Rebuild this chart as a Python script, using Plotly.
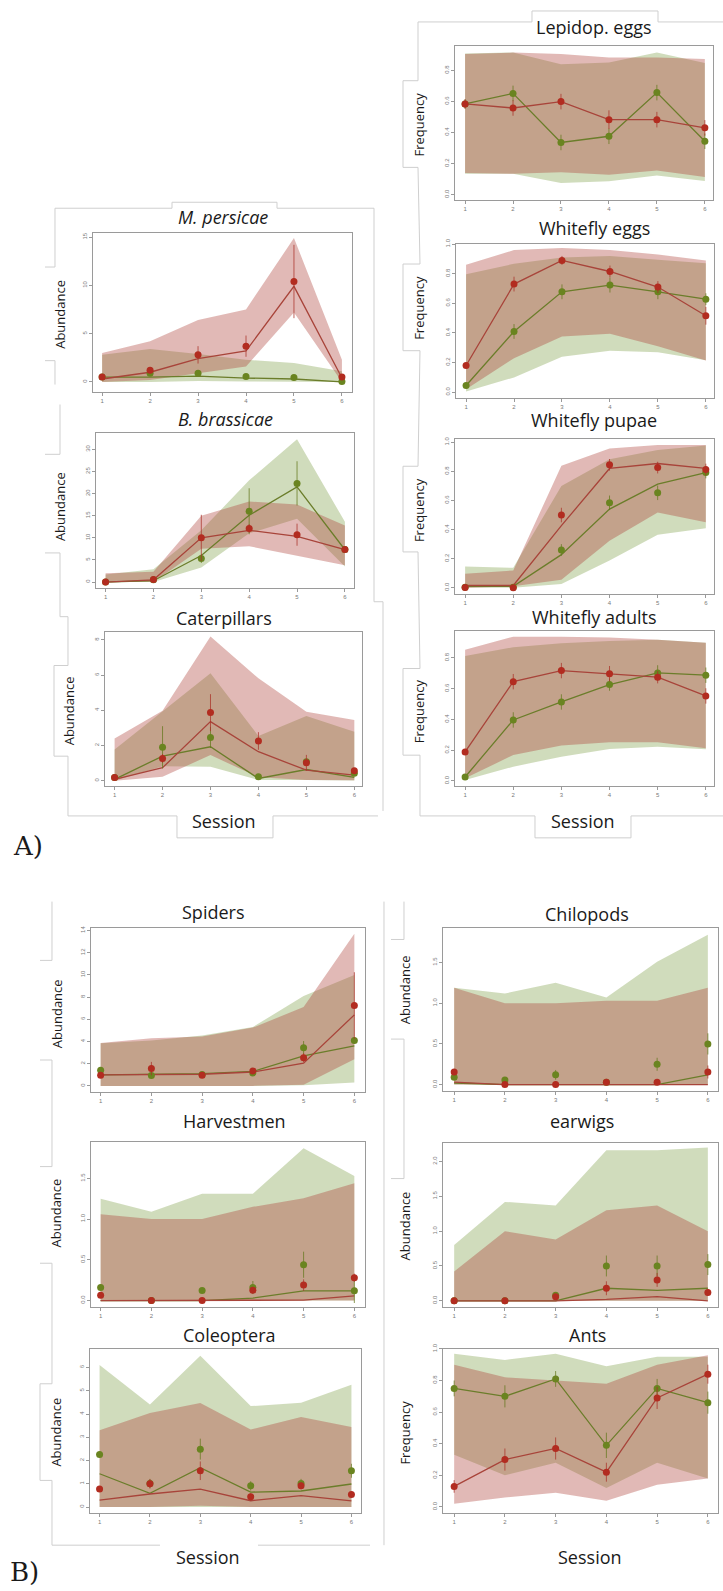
import plotly.graph_objects as go

W, H = 723, 1591
S = [1, 2, 3, 4, 5, 6]

# ---------------- data ----------------
# M. persicae
mp_red_pts = [0.5, 1.2, 2.8, 3.7, 10.4, 0.5]
mp_red_fit = [0.3, 1.0, 2.4, 3.2, 9.9, 0.4]
mp_red_lo = [0.0, 0.2, 0.9, 1.6, 7.2, 0.0]
mp_red_hi = [3.0, 4.2, 6.4, 7.5, 14.9, 2.3]
mp_red_se = [0.2, 0.3, 0.9, 1.1, 3.8, 0.2]
mp_grn_pts = [0.5, 0.9, 0.9, 0.55, 0.45, 0.05]
mp_grn_fit = [0.5, 0.5, 0.6, 0.4, 0.3, 0.0]
mp_grn_lo = [0.0, 0.0, 0.1, 0.05, 0.0, 0.0]
mp_grn_hi = [2.8, 3.4, 2.9, 2.3, 1.95, 1.1]
mp_grn_se = [0.1, 0.2, 0.2, 0.1, 0.1, 0.05]

# B. brassicae
bb_red_pts = [0.0, 0.6, 10.0, 12.1, 10.7, 7.35]
bb_red_fit = [0.0, 0.5, 10.0, 11.7, 10.3, 7.3]
bb_red_lo = [0.0, 0.0, 7.5, 8.1, 5.9, 3.8]
bb_red_hi = [2.0, 2.3, 15.0, 18.2, 17.5, 12.8]
bb_red_se = [0.2, 0.3, 5.2, 1.0, 2.5, 0.3]
bb_grn_pts = [0.0, 0.5, 5.3, 16.0, 22.3, 7.35]
bb_grn_fit = [0.0, 0.3, 6.0, 15.1, 21.5, 7.3]
bb_grn_lo = [0.0, 0.0, 3.3, 11.0, 14.3, 3.5]
bb_grn_hi = [1.7, 2.9, 11.7, 23.0, 32.3, 13.6]
bb_grn_se = [0.2, 0.3, 1.0, 5.2, 5.0, 0.3]

# Caterpillars
ca_red_pts = [0.19, 1.27, 3.87, 2.26, 1.02, 0.57]
ca_red_fit = [0.08, 0.74, 3.36, 1.65, 0.6, 0.32]
ca_red_lo = [0.0, 0.23, 1.46, 0.2, 0.05, 0.03]
ca_red_hi = [2.4, 3.98, 8.19, 5.82, 3.92, 3.45]
ca_red_se = [0.05, 0.25, 1.05, 0.5, 0.45, 0.1]
ca_grn_pts = [0.19, 1.9, 2.46, 0.23, 1.08, 0.42]
ca_grn_fit = [0.08, 1.4, 1.93, 0.13, 0.64, 0.19]
ca_grn_lo = [0.0, 0.83, 0.8, 0.05, 0.05, 0.02]
ca_grn_hi = [1.78, 3.92, 6.1, 2.54, 3.68, 2.79]
ca_grn_se = [0.05, 1.2, 0.6, 0.05, 0.1, 0.1]

# Lepidop. eggs
le_red_pts = [0.584, 0.558, 0.599, 0.483, 0.483, 0.43]
le_red_lo = [0.139, 0.135, 0.145, 0.128, 0.156, 0.113]
le_red_hi = [0.905, 0.915, 0.905, 0.883, 0.883, 0.873]
le_red_se = [0.03, 0.05, 0.05, 0.06, 0.05, 0.05]
le_grn_pts = [0.584, 0.652, 0.336, 0.376, 0.657, 0.344]
le_grn_lo = [0.135, 0.135, 0.075, 0.086, 0.124, 0.088]
le_grn_hi = [0.909, 0.915, 0.84, 0.851, 0.915, 0.847]
le_grn_se = [0.03, 0.05, 0.05, 0.05, 0.05, 0.05]

# Whitefly eggs
we_red_pts = [0.18, 0.73, 0.89, 0.815, 0.71, 0.516]
we_red_lo = [0.02, 0.23, 0.376, 0.394, 0.31, 0.214]
we_red_hi = [0.86, 0.96, 0.973, 0.96, 0.93, 0.89]
we_red_se = [0.02, 0.05, 0.03, 0.04, 0.04, 0.06]
we_grn_pts = [0.045, 0.41, 0.678, 0.723, 0.678, 0.628]
we_grn_lo = [0.005, 0.1, 0.24, 0.28, 0.27, 0.216]
we_grn_hi = [0.797, 0.867, 0.91, 0.92, 0.894, 0.87]
we_grn_se = [0.02, 0.05, 0.05, 0.05, 0.05, 0.04]

# Whitefly pupae
wp_red_pts = [0.002, 0.0, 0.5, 0.845, 0.826, 0.813]
wp_red_fit = [0.016, 0.016, 0.427, 0.82, 0.854, 0.82]
wp_red_lo = [0.0, 0.01, 0.055, 0.324, 0.518, 0.45]
wp_red_hi = [0.096, 0.119, 0.838, 0.957, 0.982, 0.982]
wp_red_se = [0.01, 0.01, 0.05, 0.04, 0.04, 0.04]
wp_grn_pts = [0.004, 0.004, 0.26, 0.584, 0.653, 0.792]
wp_grn_fit = [0.01, 0.01, 0.228, 0.541, 0.712, 0.792]
wp_grn_lo = [0.0, 0.0, 0.027, 0.187, 0.365, 0.41]
wp_grn_hi = [0.146, 0.137, 0.7, 0.884, 0.947, 0.977]
wp_grn_se = [0.01, 0.01, 0.04, 0.05, 0.05, 0.04]

# Whitefly adults
wa_red_pts = [0.189, 0.646, 0.718, 0.698, 0.675, 0.553]
wa_red_lo = [0.017, 0.169, 0.23, 0.252, 0.252, 0.213]
wa_red_hi = [0.853, 0.939, 0.939, 0.933, 0.918, 0.9]
wa_red_se = [0.02, 0.05, 0.05, 0.05, 0.04, 0.05]
wa_grn_pts = [0.026, 0.397, 0.514, 0.627, 0.703, 0.688]
wa_grn_lo = [0.006, 0.093, 0.158, 0.208, 0.223, 0.206]
wa_grn_hi = [0.813, 0.87, 0.896, 0.911, 0.918, 0.9]
wa_grn_se = [0.01, 0.05, 0.05, 0.04, 0.05, 0.05]

# Spiders
sp_red_pts = [0.96, 1.56, 0.96, 1.35, 2.54, 7.24]
sp_red_fit = [1.0, 1.0, 1.05, 1.25, 2.05, 6.4]
sp_red_lo = [0.0, 0.0, 0.0, 0.0, 0.1, 2.4]
sp_red_hi = [3.86, 4.3, 4.45, 5.25, 7.1, 13.7]
sp_red_se = [0.1, 0.6, 0.1, 0.2, 0.4, 3.0]
sp_grn_pts = [1.41, 0.93, 1.02, 1.17, 3.44, 4.1]
sp_grn_fit = [1.0, 1.05, 1.1, 1.3, 2.7, 3.6]
sp_grn_lo = [0.0, 0.0, 0.0, 0.0, 0.05, 0.3]
sp_grn_hi = [3.85, 4.1, 4.55, 5.3, 8.1, 10.0]
sp_grn_se = [0.1, 0.1, 0.1, 0.2, 0.6, 0.3]

# Harvestmen
hv_red_pts = [0.066, 0.0, 0.0, 0.127, 0.19, 0.28]
hv_red_fit = [0.0, 0.0, 0.0, 0.0, 0.005, 0.057]
hv_red_lo = [0.0, 0.0, 0.0, 0.0, 0.0, 0.0]
hv_red_hi = [1.06, 1.0, 1.0, 1.15, 1.255, 1.44]
hv_red_se = [0.01, 0.0, 0.0, 0.04, 0.07, 0.05]
hv_grn_pts = [0.16, 0.0, 0.123, 0.16, 0.44, 0.12]
hv_grn_fit = [0.0, 0.0, 0.0, 0.03, 0.12, 0.12]
hv_grn_lo = [0.0, 0.0, 0.0, 0.0, 0.0, 0.0]
hv_grn_hi = [1.25, 1.09, 1.31, 1.31, 1.87, 1.53]
hv_grn_se = [0.02, 0.0, 0.03, 0.08, 0.16, 0.15]

# Coleoptera
co_red_pts = [0.77, 1.0, 1.56, 0.44, 0.91, 0.54]
co_red_fit = [0.3, 0.56, 0.77, 0.27, 0.49, 0.26]
co_red_lo = [0.0, 0.0, 0.05, 0.0, 0.0, 0.0]
co_red_hi = [3.3, 4.04, 4.47, 3.33, 3.87, 3.44]
co_red_se = [0.1, 0.2, 0.4, 0.15, 0.15, 0.1]
co_grn_pts = [2.26, 1.01, 2.49, 0.91, 1.01, 1.56]
co_grn_fit = [1.43, 0.59, 1.69, 0.64, 0.69, 0.99]
co_grn_lo = [0.0, 0.0, 0.0, 0.0, 0.0, 0.0]
co_grn_hi = [6.11, 4.41, 6.51, 4.34, 4.49, 5.26]
co_grn_se = [0.1, 0.2, 0.45, 0.2, 0.2, 0.3]

# Chilopods
ch_red_pts = [0.155, 0.0, 0.0, 0.03, 0.03, 0.155]
ch_red_fit = [0.03, 0.0, 0.0, 0.0, 0.0, 0.0]
ch_red_lo = [0.0, 0.0, 0.0, 0.0, 0.0, 0.0]
ch_red_hi = [1.19, 1.0, 1.0, 1.03, 1.03, 1.19]
ch_red_se = [0.03, 0.0, 0.0, 0.0, 0.0, 0.08]
ch_grn_pts = [0.09, 0.057, 0.12, 0.03, 0.25, 0.5]
ch_grn_fit = [0.02, 0.0, 0.0, 0.0, 0.0, 0.12]
ch_grn_lo = [0.0, 0.0, 0.0, 0.0, 0.0, 0.0]
ch_grn_hi = [1.19, 1.12, 1.25, 1.07, 1.51, 1.84]
ch_grn_se = [0.02, 0.03, 0.06, 0.0, 0.08, 0.13]

# earwigs
ew_red_pts = [0.0, 0.0, 0.06, 0.18, 0.3, 0.12]
ew_red_fit = [0.0, 0.0, 0.0, 0.02, 0.06, 0.0]
ew_red_lo = [0.0, 0.0, 0.0, 0.0, 0.0, 0.0]
ew_red_hi = [0.42, 1.0, 0.88, 1.3, 1.37, 1.0]
ew_red_se = [0.0, 0.0, 0.02, 0.1, 0.1, 0.05]
ew_grn_pts = [0.0, 0.0, 0.08, 0.5, 0.5, 0.52]
ew_grn_fit = [0.0, 0.0, 0.0, 0.18, 0.15, 0.18]
ew_grn_lo = [0.0, 0.0, 0.0, 0.0, 0.0, 0.0]
ew_grn_hi = [0.8, 1.42, 1.37, 2.16, 2.16, 2.2]
ew_grn_se = [0.0, 0.0, 0.02, 0.15, 0.15, 0.15]

# Ants
an_red_pts = [0.13, 0.30, 0.37, 0.22, 0.69, 0.84]
an_red_fit = [0.13, 0.30, 0.37, 0.22, 0.69, 0.84]
an_red_lo = [0.02, 0.06, 0.09, 0.04, 0.14, 0.18]
an_red_hi = [0.90, 0.82, 0.80, 0.78, 0.90, 0.96]
an_red_se = [0.04, 0.07, 0.07, 0.06, 0.07, 0.06]
an_grn_pts = [0.75, 0.70, 0.81, 0.39, 0.75, 0.66]
an_grn_fit = [0.75, 0.70, 0.81, 0.39, 0.75, 0.66]
an_grn_lo = [0.33, 0.2, 0.28, 0.12, 0.28, 0.18]
an_grn_hi = [0.97, 0.93, 0.97, 0.89, 0.95, 0.95]
an_grn_se = [0.05, 0.07, 0.05, 0.08, 0.06, 0.07]

# tick labels
ticks_mp = [0, 5, 10, 15]
ticks_bb = [0, 5, 10, 15, 20, 25, 30]
ticks_ca = [0, 2, 4, 6, 8]
ticks_f8 = [0.0, 0.2, 0.4, 0.6, 0.8]
ticks_f10 = [0.0, 0.2, 0.4, 0.6, 0.8, 1.0]
ticks_sp = [0, 2, 4, 6, 8, 10, 12, 14]
ticks_h = [0.0, 0.5, 1.0, 1.5]
ticks_co = [0, 1, 2, 3, 4, 5, 6]
ticks_ew = [0.0, 0.5, 1.0, 1.5, 2.0]

# ---------------- styling ----------------
RED_FILL = "rgba(172,62,52,0.36)"
GRN_FILL = "rgba(112,150,52,0.33)"
RED_LINE = "#a8443a"
GRN_LINE = "#6b7d2a"
RED_PT = "#b22c20"
GRN_PT = "#6a8420"
RED_ERR = "rgba(170,50,40,0.75)"
GRN_ERR = "rgba(100,120,30,0.75)"
FRAME = "#cfcfcf"
TXT = "#1a1a1a"
FONT = "Open Sans"


def fx(x):
    return x / W


def fy(y):
    return 1 - y / H


panels = [
    dict(t="M. persicae", it=True, box=(93, 352, 228, 387), xr=(0.81, 6.21), yr=(-1.0, 15.41), tk=ticks_mp, f="%d",
         ttl=(223, 212), red=(mp_red_pts, mp_red_fit, mp_red_lo, mp_red_hi, mp_red_se),
         grn=(mp_grn_pts, mp_grn_fit, mp_grn_lo, mp_grn_hi, mp_grn_se)),
    dict(t="B. brassicae", it=True, box=(96, 354, 429, 584), xr=(0.80, 6.19), yr=(-1.3, 33.6), tk=ticks_bb, f="%d",
         ttl=(225, 415), red=(bb_red_pts, bb_red_fit, bb_red_lo, bb_red_hi, bb_red_se),
         grn=(bb_grn_pts, bb_grn_fit, bb_grn_lo, bb_grn_hi, bb_grn_se)),
    dict(t="Caterpillars", it=False, box=(105, 362, 628, 783), xr=(0.80, 6.16), yr=(-0.3, 8.47), tk=ticks_ca, f="%d",
         ttl=(224, 614), red=(ca_red_pts, ca_red_fit, ca_red_lo, ca_red_hi, ca_red_se),
         grn=(ca_grn_pts, ca_grn_fit, ca_grn_lo, ca_grn_hi, ca_grn_se)),
    dict(t="Lepidop. eggs", it=False, box=(455, 713, 40, 195), xr=(0.79, 6.17), yr=(-0.036, 0.958), tk=ticks_f8, f="%.1f",
         ttl=(594, 21), red=(le_red_pts, le_red_pts, le_red_lo, le_red_hi, le_red_se),
         grn=(le_grn_pts, le_grn_pts, le_grn_lo, le_grn_hi, le_grn_se)),
    dict(t="Whitefly eggs", it=False, box=(456, 714, 239, 393), xr=(0.79, 6.17), yr=(-0.036, 1.0), tk=ticks_f10, f="%.1f",
         ttl=(594, 223), red=(we_red_pts, we_red_pts, we_red_lo, we_red_hi, we_red_se),
         grn=(we_grn_pts, we_grn_pts, we_grn_lo, we_grn_hi, we_grn_se)),
    dict(t="Whitefly pupae", it=False, box=(455, 714, 435, 590), xr=(0.79, 6.17), yr=(-0.041, 1.02), tk=ticks_f10, f="%.1f",
         ttl=(594, 416), red=(wp_red_pts, wp_red_fit, wp_red_lo, wp_red_hi, wp_red_se),
         grn=(wp_grn_pts, wp_grn_fit, wp_grn_lo, wp_grn_hi, wp_grn_se)),
    dict(t="Whitefly adults", it=False, box=(455, 714, 627, 783), xr=(0.79, 6.17), yr=(-0.033, 0.978), tk=ticks_f8, f="%.1f",
         ttl=(594, 613), red=(wa_red_pts, wa_red_pts, wa_red_lo, wa_red_hi, wa_red_se),
         grn=(wa_grn_pts, wa_grn_pts, wa_grn_lo, wa_grn_hi, wa_grn_se)),
    dict(t="Spiders", it=False, box=(91, 365, 925, 1090), xr=(0.81, 6.21), yr=(-0.54, 14.27), tk=ticks_sp, f="%d",
         ttl=(213, 909), red=(sp_red_pts, sp_red_fit, sp_red_lo, sp_red_hi, sp_red_se),
         grn=(sp_grn_pts, sp_grn_fit, sp_grn_lo, sp_grn_hi, sp_grn_se)),
    dict(t="Harvestmen", it=False, box=(91, 365, 1140, 1306), xr=(0.81, 6.21), yr=(-0.08, 1.95), tk=ticks_h, f="%.1f",
         ttl=(234, 1119), red=(hv_red_pts, hv_red_fit, hv_red_lo, hv_red_hi, hv_red_se),
         grn=(hv_grn_pts, hv_grn_fit, hv_grn_lo, hv_grn_hi, hv_grn_se)),
    dict(t="Coleoptera", it=False, box=(90, 361, 1348, 1513), xr=(0.81, 6.19), yr=(-0.27, 6.8), tk=ticks_co, f="%d",
         ttl=(230, 1334), red=(co_red_pts, co_red_fit, co_red_lo, co_red_hi, co_red_se),
         grn=(co_grn_pts, co_grn_fit, co_grn_lo, co_grn_hi, co_grn_se)),
    dict(t="Chilopods", it=False, box=(443, 718, 925, 1089), xr=(0.78, 6.2), yr=(-0.077, 1.93), tk=ticks_h, f="%.1f",
         ttl=(587, 911), red=(ch_red_pts, ch_red_fit, ch_red_lo, ch_red_hi, ch_red_se),
         grn=(ch_grn_pts, ch_grn_fit, ch_grn_lo, ch_grn_hi, ch_grn_se)),
    dict(t="earwigs", it=False, box=(443, 718, 1141, 1306), xr=(0.78, 6.2), yr=(-0.09, 2.27), tk=ticks_ew, f="%.1f",
         ttl=(582, 1119), red=(ew_red_pts, ew_red_fit, ew_red_lo, ew_red_hi, ew_red_se),
         grn=(ew_grn_pts, ew_grn_fit, ew_grn_lo, ew_grn_hi, ew_grn_se)),
    dict(t="Ants", it=False, box=(443, 718, 1348, 1513), xr=(0.78, 6.2), yr=(-0.04, 1.0), tk=ticks_f10, f="%.1f",
         ttl=(587, 1334), red=(an_red_pts, an_red_fit, an_red_lo, an_red_hi, an_red_se),
         grn=(an_grn_pts, an_grn_fit, an_grn_lo, an_grn_hi, an_grn_se)),
]

fig = go.Figure()
layout = dict(width=W, height=H, margin=dict(l=0, r=0, t=0, b=0), paper_bgcolor="white",
              plot_bgcolor="white", showlegend=False)
annotations = []
shapes = []

for i, p in enumerate(panels, start=1):
    xa = "x" if i == 1 else f"x{i}"
    ya = "y" if i == 1 else f"y{i}"
    x0, x1, y0, y1 = p["box"]
    ax_common = dict(showgrid=False, zeroline=False, showline=True, mirror=True, linecolor="#9a9a9a",
                     linewidth=1, ticks="outside", ticklen=3, tickcolor="#9a9a9a",
                     tickfont=dict(size=6, color="#7a7a7a", family="Liberation Sans"))
    layout["xaxis" if i == 1 else f"xaxis{i}"] = dict(
        domain=[fx(x0), fx(x1)], range=list(p["xr"]), anchor=ya, tickvals=S,
        ticktext=[str(s) for s in S], **ax_common)
    layout["yaxis" if i == 1 else f"yaxis{i}"] = dict(
        domain=[fy(y1), fy(y0)], range=list(p["yr"]), anchor=xa, tickvals=p["tk"],
        ticktext=[p["f"] % v for v in p["tk"]], tickangle=-90, **ax_common)

    series = (("grn", GRN_FILL, GRN_LINE, GRN_PT, GRN_ERR), ("red", RED_FILL, RED_LINE, RED_PT, RED_ERR))
    for key, fill, lcol, pcol, ecol in series:
        pts, fit, lo, hi, se = p[key]
        fig.add_trace(go.Scatter(x=S + S[::-1], y=list(hi) + list(lo)[::-1], fill="toself",
                                 fillcolor=fill, line=dict(width=0), mode="lines",
                                 hoverinfo="skip", xaxis=xa, yaxis=ya))
    for key, fill, lcol, pcol, ecol in series:
        pts, fit, lo, hi, se = p[key]
        fig.add_trace(go.Scatter(x=S, y=fit, mode="lines", line=dict(color=lcol, width=1.3),
                                 xaxis=xa, yaxis=ya))
    for key, fill, lcol, pcol, ecol in series:
        pts, fit, lo, hi, se = p[key]
        fig.add_trace(go.Scatter(x=S, y=pts, mode="markers",
                                 marker=dict(color=pcol, size=7, line=dict(width=0)),
                                 error_y=dict(type="data", array=se, visible=True, color=ecol,
                                              thickness=1, width=0),
                                 xaxis=xa, yaxis=ya))
    tx, ty = p["ttl"]
    txt = f"<i>{p['t']}</i>" if p["it"] else p["t"]
    annotations.append(dict(x=fx(tx), y=fy(ty), xref="paper", yref="paper", text=txt, showarrow=False,
                            xanchor="center", yanchor="middle",
                            font=dict(family=FONT, size=18, color=TXT)))

# axis-title labels (rotated)
ylabels = [("Abundance", 60, 310), ("Abundance", 60, 503), ("Abundance", 69, 708),
           ("Frequency", 419, 119), ("Frequency", 419, 303), ("Frequency", 419, 506),
           ("Frequency", 419, 708),
           ("Abundance", 57, 1012), ("Abundance", 56, 1212), ("Abundance", 56, 1432),
           ("Abundance", 405, 988), ("Abundance", 405, 1225), ("Frequency", 405, 1432)]
for t, x, y in ylabels:
    annotations.append(dict(x=fx(x), y=fy(y), xref="paper", yref="paper", text=t, showarrow=False,
                            textangle=-90, xanchor="center", yanchor="middle",
                            font=dict(family=FONT, size=13, color=TXT)))

for x, y in ((224, 818), (583, 818), (208, 1557), (590, 1557)):
    annotations.append(dict(x=fx(x), y=fy(y), xref="paper", yref="paper", text="Session",
                            showarrow=False, xanchor="center", yanchor="middle",
                            font=dict(family=FONT, size=18, color=TXT)))

for t, x, y in (("A)", 28, 843), ("B)", 24, 1572)):
    annotations.append(dict(x=fx(x), y=fy(y), xref="paper", yref="paper", text=t, showarrow=False,
                            xanchor="center", yanchor="middle",
                            font=dict(family="DejaVu Serif", size=26, color=TXT)))

# decorative frame lines (pixel polylines)
frames = [
    [(55, 262), (55, 203), (172, 203), (172, 197), (277, 197), (277, 203), (374, 203), (374, 598),
     (383, 598), (383, 808)],
    [(45, 262), (55, 262)], [(45, 356), (55, 356)], [(55, 356), (55, 380)],
    [(60, 400), (60, 450), (45, 450)], [(45, 549), (60, 549), (60, 613), (68, 613), (68, 662), (54, 662),
                                         (54, 753), (68, 753), (68, 813), (177, 813), (177, 835),
                                         (273, 835), (273, 813), (378, 813)],
    [(418, 75), (418, 16), (532, 16), (532, 5), (658, 5), (658, 16), (723, 16)],
    [(418, 75), (403, 75), (403, 162), (418, 162), (420, 259), (403, 259), (403, 346), (420, 346),
     (418, 462), (403, 462), (403, 548), (418, 548), (420, 665), (403, 665), (403, 752), (420, 752),
     (420, 813), (535, 813), (535, 835), (631, 835), (631, 813), (723, 813)],
    [(52, 899), (52, 958), (40, 958)], [(40, 1058), (52, 1058), (52, 1165), (40, 1165)],
    [(40, 1262), (52, 1262), (52, 1383), (40, 1383), (40, 1480), (52, 1480), (52, 1545), (160, 1545)],
    [(258, 1545), (370, 1545)],
    [(384, 899), (384, 1545)],
    [(404, 899), (404, 937), (391, 937)], [(391, 1037), (404, 1037), (404, 1177), (391, 1177)],
]
for poly in frames:
    path = "M " + " L ".join(f"{fx(x):.5f},{fy(y):.5f}" for x, y in poly)
    shapes.append(dict(type="path", path=path, xref="paper", yref="paper",
                       line=dict(color=FRAME, width=1), layer="below"))

layout["annotations"] = annotations
layout["shapes"] = shapes
fig.update_layout(**layout)
fig.write_html("out.html", config={"displayModeBar": False},
               post_script="document.body.style.margin='0';document.body.style.overflow='hidden';")
